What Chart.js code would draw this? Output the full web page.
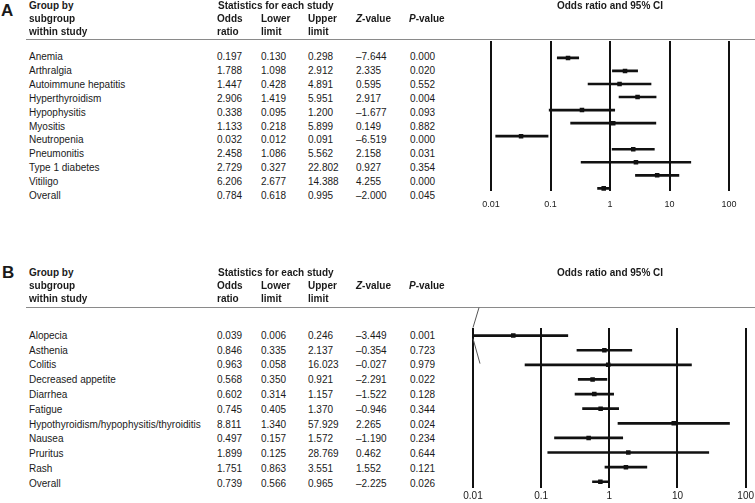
<!DOCTYPE html>
<html>
<head>
<meta charset="utf-8">
<script src="https://cdn.jsdelivr.net/npm/chart.js@4.4.1/dist/chart.umd.min.js"></script>
<style>
  html, body { margin: 0; padding: 0; background: #fff; }
  body { width: 755px; height: 503px; position: relative; overflow: hidden;
         font-family: "Liberation Sans", Arial, sans-serif; color: #1a1a1a; }
  .t { position: absolute; font-size: 10px; line-height: 12px; white-space: nowrap; }
  .b { font-weight: bold; }
  .panel { position: absolute; font-size: 17px; font-weight: bold; line-height: 20px; }
  .rule { position: absolute; left: 26px; width: 729px; height: 1px; background: #8a8a8a; }
  canvas { position: absolute; }
</style>
</head>
<body>
<div class="panel" style="left:1px;top:1px">A</div>
<div class="panel" style="left:2px;top:263px">B</div>
<div class="rule" style="top:39px"></div>
<div class="rule" style="top:307px"></div>
<canvas id="chartA" width="280" height="184" style="left:470px;top:37px"></canvas>
<canvas id="chartB" width="303" height="203" style="left:453px;top:304px"></canvas>
<script>
// PANEL A DATA
const catsA = ["Anemia", "Arthralgia", "Autoimmune hepatitis", "Hyperthyroidism", "Hypophysitis",
               "Myositis", "Neutropenia", "Pneumonitis", "Type 1 diabetes", "Vitiligo", "Overall"];
const orA = [0.197, 1.788, 1.447, 2.906, 0.338, 1.133, 0.032, 2.458, 2.729, 6.206, 0.784];
const loA = [0.130, 1.098, 0.428, 1.419, 0.095, 0.218, 0.012, 1.086, 0.327, 2.677, 0.618];
const hiA = [0.298, 2.912, 4.891, 5.951, 1.200, 5.899, 0.091, 5.562, 22.802, 14.388, 0.995];
const zA = [-7.644, 2.335, 0.595, 2.917, -1.677, 0.149, -6.519, 2.158, 0.927, 4.255, -2.000];
const pA = [0.000, 0.020, 0.552, 0.004, 0.093, 0.882, 0.000, 0.031, 0.354, 0.000, 0.045];

// PANEL B DATA
const catsB = ["Alopecia", "Asthenia", "Colitis", "Decreased appetite", "Diarrhea", "Fatigue",
               "Hypothyroidism/hypophysitis/thyroiditis", "Nausea", "Pruritus", "Rash", "Overall"];
const orB = [0.039, 0.846, 0.963, 0.568, 0.602, 0.745, 8.811, 0.497, 1.899, 1.751, 0.739];
const loB = [0.006, 0.335, 0.058, 0.350, 0.314, 0.405, 1.340, 0.157, 0.125, 0.863, 0.566];
const hiB = [0.246, 2.137, 16.023, 0.921, 1.157, 1.370, 57.929, 1.572, 28.769, 3.551, 0.965];
const zB = [-3.449, -0.354, -0.027, -2.291, -1.522, -0.946, 2.265, -1.190, 0.462, 1.552, -2.225];
const pB = [0.001, 0.723, 0.979, 0.022, 0.128, 0.344, 0.024, 0.234, 0.644, 0.121, 0.026];

// AXIS
const axisTicks = [0.01, 0.1, 1, 10, 100];

const FONT = '"Liberation Sans", Arial, sans-serif';
const colX = [217, 261, 308, 356, 410];

function put(html, x, y, bold) {
  const el = document.createElement('div');
  el.className = 't' + (bold ? ' b' : '');
  el.style.left = x + 'px';
  el.style.top = (y - 6) + 'px';
  el.innerHTML = html;
  document.body.appendChild(el);
  return el;
}

const fmt = v => v.toFixed(3).replace('-', '\u2013');

// TABLE HEADER
function header(y0) {
  put('Group by', 29, y0, true);
  put('subgroup', 29, y0 + 13, true);
  put('within study', 29, y0 + 26, true);
  put('Statistics for each study', 218, y0, true);
  put('Odds', colX[0], y0 + 13, true);
  put('ratio', colX[0], y0 + 26, true);
  put('Lower', colX[1], y0 + 13, true);
  put('limit', colX[1], y0 + 26, true);
  put('Upper', colX[2], y0 + 13, true);
  put('limit', colX[2], y0 + 26, true);
  put('<i>Z</i>-value', colX[3], y0 + 13, true);
  put('<i>P</i>-value', colX[4] - 1, y0 + 13, true);
  const t = put('Odds ratio and 95% CI', 510, y0, true);
  t.style.width = '200px';
  t.style.textAlign = 'center';
}

// TABLE ROWS
function rows(cats, or, lo, hi, z, p, y0, step) {
  cats.forEach((c, i) => {
    const y = y0 + i * step;
    put(c, 29, y);
    [or[i], lo[i], hi[i], z[i], p[i]].forEach((v, k) => put(fmt(v), colX[k], y));
  });
}

// ARROW FOR CUT-OFF INTERVALS
const cutPlugin = {
  id: 'cut',
  afterDatasetsDraw(chart) {
    const { x, y } = chart.scales;
    const ctx = chart.ctx;
    chart.data.datasets[1].data.forEach((d, i) => {
      if (d.x[0] >= x.min) return;
      const px = x.left, py = y.getPixelForValue(i);
      ctx.save();
      ctx.strokeStyle = '#555';
      ctx.lineWidth = 1;
      ctx.beginPath();
      ctx.moveTo(px + 6, py - 28);
      ctx.lineTo(px, py - 8);
      ctx.moveTo(px, py + 3);
      ctx.lineTo(px + 7, py + 28);
      ctx.stroke();
      ctx.restore();
    });
  }
};

// FOREST PLOT
function forest(id, or, lo, hi, yMin, yMax, pad, tickSize, tickPad) {
  new Chart(document.getElementById(id), {
    type: 'bar',
    data: {
      datasets: [
        {
          type: 'scatter',
          data: or.map((v, i) => ({ x: v, y: i })),
          pointStyle: 'rect',
          pointRadius: 3.2,
          backgroundColor: '#111',
          borderWidth: 0,
          indexAxis: 'y'
        },
        {
          type: 'bar',
          data: lo.map((v, i) => ({ x: [v, hi[i]], y: i })),
          barThickness: 2,
          backgroundColor: '#111',
          borderWidth: 0
        }
      ]
    },
    options: {
      indexAxis: 'y',
      responsive: false,
      animation: false,
      events: [],
      layout: { padding: pad },
      plugins: { legend: { display: false }, tooltip: { enabled: false } },
      scales: {
        x: {
          type: 'logarithmic',
          min: 0.01,
          max: 100,
          afterBuildTicks: s => { s.ticks = axisTicks.map(v => ({ value: v })); },
          ticks: {
            callback: v => String(v),
            font: { family: FONT, size: tickSize },
            color: '#1a1a1a',
            padding: tickPad,
            maxRotation: 0,
            autoSkip: false
          },
          grid: { color: '#111', lineWidth: 2, drawTicks: false },
          border: { display: false }
        },
        y: { type: 'linear', reverse: true, min: yMin, max: yMax, display: false, offset: false }
      }
    },
    plugins: [cutPlugin]
  });
}

header(5.5);
rows(catsA, orA, loA, hiA, zA, pA, 57, 13.9);
header(272.7);
rows(catsB, orB, loB, hiB, zB, pB, 335.7, 14.8);

forest('chartA', orA, loA, hiA, -1.295, 10.216, { left: 21, right: 21, top: 2, bottom: 3 }, 9, 8);
forest('chartB', orB, loB, hiB, -0.52, 10.426, { left: 20, right: 10, top: 24, bottom: 3 }, 10, 2);
</script>
</body>
</html>
